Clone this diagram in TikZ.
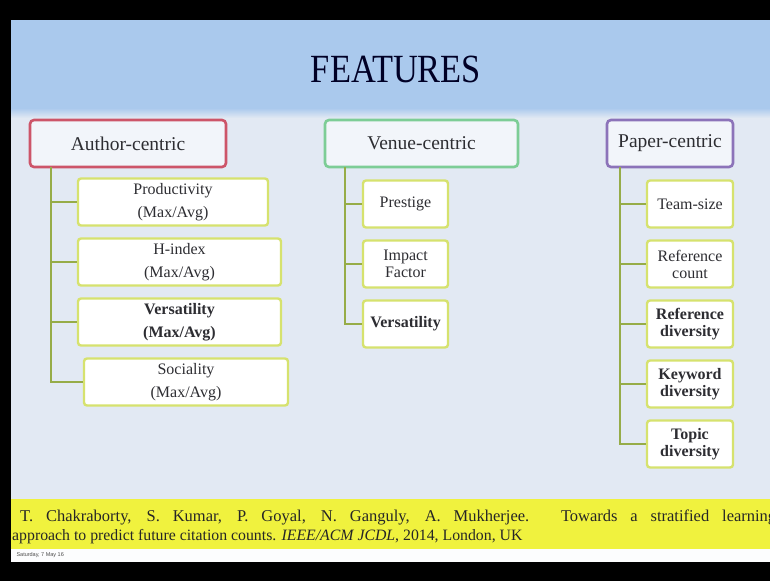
\documentclass[tikz,border=0pt]{standalone}
\usepackage{fontspec}
\setmainfont{Liberation Serif}
\newfontfamily\datefont{Liberation Sans}
\definecolor{slidebg}{RGB}{226,233,243}
\definecolor{bandblue}{RGB}{170,201,237}
\definecolor{citeyellow}{RGB}{240,242,62}
\definecolor{treecol}{RGB}{150,172,72}
\definecolor{childborder}{RGB}{214,226,110}
\definecolor{redborder}{RGB}{205,85,105}
\definecolor{greenborder}{RGB}{125,205,150}
\definecolor{purpleborder}{RGB}{140,115,185}
\definecolor{txt}{RGB}{45,45,50}
\begin{document}
\begin{tikzpicture}[x=1pt,y=-1pt,
  header/.style={draw, line width=2.6pt, rounded corners=4pt, fill=white!55!slidebg, minimum height=47pt, text=txt, font=\fontsize{19.5}{22}\selectfont, inner sep=0pt},
  child/.style={draw=childborder, line width=2.4pt, rounded corners=3pt, fill=white, minimum height=47pt, text=txt, align=center, font=\fontsize{16}{17}\selectfont, inner sep=0pt},
  achild/.style={child, font=\fontsize{16}{23.5}\selectfont},
  tree/.style={draw=treecol, line width=2pt}]
\useasboundingbox (0,0) rectangle (770,581);
\fill[black] (0,0) rectangle (770,581);
\fill[slidebg] (11,20) rectangle (770,562);
\fill[bandblue] (11,20) rectangle (770,108);
\shade[top color=bandblue, bottom color=slidebg] (11,108) rectangle (770,118);
\fill[citeyellow] (11,499) rectangle (770,549);
\fill[white!90!slidebg] (11,549) rectangle (770,562);
% title
\node[font=\fontsize{40}{40}\selectfont, text=black!85!blue, xscale=0.86] (title) at (396,69) {FEATURES};
% headers
\node[header, draw=redborder, minimum width=196pt] (ah) at (128,143.5) {Author-centric};
\node[header, draw=greenborder, minimum width=193pt] (vh) at (421.5,143.5) {Venue-centric};
\node[header, draw=purpleborder, minimum width=126pt] (ph) at (670,143.5) {Paper-centric};
% author children
\node[achild, minimum width=190pt] (a1) at (173,202) {Productivity\\(Max/Avg)};
\node[achild, minimum width=203pt] (a2) at (179.5,262) {H-index\\(Max/Avg)};
\node[achild, minimum width=203pt, font=\fontsize{16}{23.5}\selectfont\bfseries] (a3) at (179.5,322) {Versatility\\(Max/Avg)};
\node[achild, minimum width=204pt] (a4) at (186,382) {Sociality\\(Max/Avg)};
% venue children
\node[child, minimum width=85pt] (v1) at (405.5,204) {Prestige};
\node[child, minimum width=85pt] (v2) at (405.5,264) {Impact\\Factor};
\node[child, minimum width=85pt, font=\fontsize{16}{17}\selectfont\bfseries] (v3) at (405.5,324) {Versatility};
% paper children
\node[child, minimum width=86pt] (p1) at (690,204) {Team-size};
\node[child, minimum width=86pt] (p2) at (690,264) {Reference\\count};
\node[child, minimum width=86pt, font=\fontsize{16}{17}\selectfont\bfseries] (p3) at (690,324) {Reference\\diversity};
\node[child, minimum width=86pt, font=\fontsize{16}{17}\selectfont\bfseries] (p4) at (690,384) {Keyword\\diversity};
\node[child, minimum width=86pt, font=\fontsize{16}{17}\selectfont\bfseries] (p5) at (690,444) {Topic\\diversity};
% tree connectors
\coordinate (at) at (51,167);
\coordinate (vt) at (345,167);
\coordinate (pt) at (620,167);
\draw[tree] (at) |- (a4.west);
\foreach \n in {a1,a2,a3} \draw[tree] (at |- \n.west) -- (\n.west);
\draw[tree] (vt) |- (v3.west);
\foreach \n in {v1,v2} \draw[tree] (vt |- \n.west) -- (\n.west);
\draw[tree] (pt) |- (p5.west);
\foreach \n in {p1,p2,p3,p4} \draw[tree] (pt |- \n.west) -- (\n.west);
% citation
\begin{scope}
\clip (11,499) rectangle (770,549);
\node[anchor=west, font=\fontsize{16.5}{19}\selectfont, text=black!85, inner sep=0pt] (c1) at (20,517) {\makebox[756pt][s]{T. Chakraborty, S. Kumar, P. Goyal, N. Ganguly, A. Mukherjee. Towards a stratified learning}};
\node[anchor=west, font=\fontsize{15.8}{19}\selectfont, text=black!85, inner sep=0pt] (c2) at (12,537) {approach to predict future citation counts. \textit{IEEE/ACM JCDL}, 2014, London, UK};
\end{scope}
\node[anchor=west, font=\datefont\fontsize{5.5}{6}\selectfont, text=black!70] (date) at (13,555.5) {Saturday, 7 May 16};
\end{tikzpicture}
\end{document}
